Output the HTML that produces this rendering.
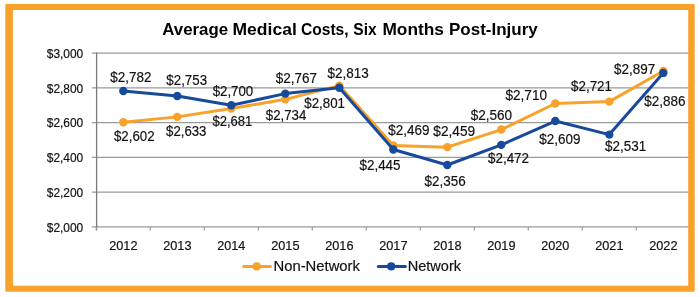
<!DOCTYPE html><html><head><meta charset="utf-8"><style>html,body{margin:0;padding:0;background:#fff;width:700px;height:297px;overflow:hidden}svg{display:block;will-change:transform}text{font-family:"Liberation Sans",sans-serif}</style></head><body>
<svg width="700" height="297" viewBox="0 0 700 297">
<rect x="0" y="0" width="700" height="297" fill="#fff"/>
<line x1="91.8" y1="53.10" x2="690" y2="53.10" stroke="#9a9a9a" stroke-width="1.2"/>
<line x1="91.8" y1="87.86" x2="690" y2="87.86" stroke="#9a9a9a" stroke-width="1.2"/>
<line x1="91.8" y1="122.62" x2="690" y2="122.62" stroke="#9a9a9a" stroke-width="1.2"/>
<line x1="91.8" y1="157.38" x2="690" y2="157.38" stroke="#9a9a9a" stroke-width="1.2"/>
<line x1="91.8" y1="192.14" x2="690" y2="192.14" stroke="#9a9a9a" stroke-width="1.2"/>
<line x1="91.8" y1="226.90" x2="690" y2="226.90" stroke="#9a9a9a" stroke-width="1.2"/>
<line x1="96.6" y1="52.5" x2="96.6" y2="230.4" stroke="#7a7a7a" stroke-width="1.3"/>
<line x1="96.30" y1="226.9" x2="96.30" y2="230.4" stroke="#9a9a9a" stroke-width="1.2"/>
<line x1="150.30" y1="226.9" x2="150.30" y2="230.4" stroke="#9a9a9a" stroke-width="1.2"/>
<line x1="204.30" y1="226.9" x2="204.30" y2="230.4" stroke="#9a9a9a" stroke-width="1.2"/>
<line x1="258.30" y1="226.9" x2="258.30" y2="230.4" stroke="#9a9a9a" stroke-width="1.2"/>
<line x1="312.30" y1="226.9" x2="312.30" y2="230.4" stroke="#9a9a9a" stroke-width="1.2"/>
<line x1="366.30" y1="226.9" x2="366.30" y2="230.4" stroke="#9a9a9a" stroke-width="1.2"/>
<line x1="420.30" y1="226.9" x2="420.30" y2="230.4" stroke="#9a9a9a" stroke-width="1.2"/>
<line x1="474.30" y1="226.9" x2="474.30" y2="230.4" stroke="#9a9a9a" stroke-width="1.2"/>
<line x1="528.30" y1="226.9" x2="528.30" y2="230.4" stroke="#9a9a9a" stroke-width="1.2"/>
<line x1="582.30" y1="226.9" x2="582.30" y2="230.4" stroke="#9a9a9a" stroke-width="1.2"/>
<line x1="636.30" y1="226.9" x2="636.30" y2="230.4" stroke="#9a9a9a" stroke-width="1.2"/>
<line x1="690.30" y1="226.9" x2="690.30" y2="230.4" stroke="#9a9a9a" stroke-width="1.2"/>
<polyline points="123.30,122.27 177.30,116.88 231.30,108.54 285.30,99.33 339.30,85.60 393.30,145.39 447.30,147.13 501.30,129.57 555.30,103.50 609.30,101.59 663.30,71.00" fill="none" stroke="#F8A12B" stroke-width="3" stroke-linejoin="round" stroke-linecap="round"/>
<circle cx="123.30" cy="122.27" r="4.2" fill="#F8A12B"/>
<circle cx="177.30" cy="116.88" r="4.2" fill="#F8A12B"/>
<circle cx="231.30" cy="108.54" r="4.2" fill="#F8A12B"/>
<circle cx="285.30" cy="99.33" r="4.2" fill="#F8A12B"/>
<circle cx="339.30" cy="85.60" r="4.2" fill="#F8A12B"/>
<circle cx="393.30" cy="145.39" r="4.2" fill="#F8A12B"/>
<circle cx="447.30" cy="147.13" r="4.2" fill="#F8A12B"/>
<circle cx="501.30" cy="129.57" r="4.2" fill="#F8A12B"/>
<circle cx="555.30" cy="103.50" r="4.2" fill="#F8A12B"/>
<circle cx="609.30" cy="101.59" r="4.2" fill="#F8A12B"/>
<circle cx="663.30" cy="71.00" r="4.2" fill="#F8A12B"/>
<polyline points="123.30,90.99 177.30,96.03 231.30,105.24 285.30,93.60 339.30,87.69 393.30,149.56 447.30,165.03 501.30,144.87 555.30,121.06 609.30,134.61 663.30,72.91" fill="none" stroke="#184A9B" stroke-width="3" stroke-linejoin="round" stroke-linecap="round"/>
<circle cx="123.30" cy="90.99" r="4.2" fill="#184A9B"/>
<circle cx="177.30" cy="96.03" r="4.2" fill="#184A9B"/>
<circle cx="231.30" cy="105.24" r="4.2" fill="#184A9B"/>
<circle cx="285.30" cy="93.60" r="4.2" fill="#184A9B"/>
<circle cx="339.30" cy="87.69" r="4.2" fill="#184A9B"/>
<circle cx="393.30" cy="149.56" r="4.2" fill="#184A9B"/>
<circle cx="447.30" cy="165.03" r="4.2" fill="#184A9B"/>
<circle cx="501.30" cy="144.87" r="4.2" fill="#184A9B"/>
<circle cx="555.30" cy="121.06" r="4.2" fill="#184A9B"/>
<circle cx="609.30" cy="134.61" r="4.2" fill="#184A9B"/>
<circle cx="663.30" cy="72.91" r="4.2" fill="#184A9B"/>
<line x1="243.6" y1="266.4" x2="270.3" y2="266.4" stroke="#F8A12B" stroke-width="3" stroke-linecap="round"/><circle cx="256.7" cy="266.4" r="4.1" fill="#F8A12B"/>
<line x1="378.3" y1="266.4" x2="405.4" y2="266.4" stroke="#184A9B" stroke-width="3" stroke-linecap="round"/><circle cx="391.2" cy="266.4" r="4.1" fill="#184A9B"/>
<text x="162.29" y="35.10" font-size="16.5" font-weight="bold" fill="#000" textLength="65.84" lengthAdjust="spacingAndGlyphs">Average</text>
<text x="232.54" y="35.10" font-size="16.5" font-weight="bold" fill="#000" textLength="64.26" lengthAdjust="spacingAndGlyphs">Medical</text>
<text x="300.99" y="35.10" font-size="16.5" font-weight="bold" fill="#000" textLength="47.63" lengthAdjust="spacingAndGlyphs">Costs,</text>
<text x="353.33" y="35.10" font-size="16.5" font-weight="bold" fill="#000" textLength="23.34" lengthAdjust="spacingAndGlyphs">Six</text>
<text x="382.45" y="35.10" font-size="16.5" font-weight="bold" fill="#000" textLength="61.54" lengthAdjust="spacingAndGlyphs">Months</text>
<text x="448.97" y="35.10" font-size="16.5" font-weight="bold" fill="#000" textLength="88.82" lengthAdjust="spacingAndGlyphs">Post-Injury</text>
<text x="113.97" y="141.00" font-size="14.3" stroke="#111111" stroke-width="0.18" fill="#111111" textLength="40.61" lengthAdjust="spacingAndGlyphs">$2,602</text>
<text x="166.07" y="135.70" font-size="14.3" stroke="#111111" stroke-width="0.18" fill="#111111" textLength="40.31" lengthAdjust="spacingAndGlyphs">$2,633</text>
<text x="212.47" y="125.80" font-size="14.3" stroke="#111111" stroke-width="0.18" fill="#111111" textLength="39.90" lengthAdjust="spacingAndGlyphs">$2,681</text>
<text x="265.77" y="119.90" font-size="14.3" stroke="#111111" stroke-width="0.18" fill="#111111" textLength="40.48" lengthAdjust="spacingAndGlyphs">$2,734</text>
<text x="327.56" y="77.70" font-size="14.3" stroke="#111111" stroke-width="0.18" fill="#111111" textLength="41.23" lengthAdjust="spacingAndGlyphs">$2,813</text>
<text x="388.16" y="135.40" font-size="14.3" stroke="#111111" stroke-width="0.18" fill="#111111" textLength="41.23" lengthAdjust="spacingAndGlyphs">$2,469</text>
<text x="433.36" y="135.50" font-size="14.3" stroke="#111111" stroke-width="0.18" fill="#111111" textLength="41.84" lengthAdjust="spacingAndGlyphs">$2,459</text>
<text x="470.66" y="120.40" font-size="14.3" stroke="#111111" stroke-width="0.18" fill="#111111" textLength="41.50" lengthAdjust="spacingAndGlyphs">$2,560</text>
<text x="505.46" y="99.80" font-size="14.3" stroke="#111111" stroke-width="0.18" fill="#111111" textLength="41.60" lengthAdjust="spacingAndGlyphs">$2,710</text>
<text x="571.07" y="91.30" font-size="14.3" stroke="#111111" stroke-width="0.18" fill="#111111" textLength="40.92" lengthAdjust="spacingAndGlyphs">$2,721</text>
<text x="614.06" y="74.00" font-size="14.3" stroke="#111111" stroke-width="0.18" fill="#111111" textLength="41.23" lengthAdjust="spacingAndGlyphs">$2,897</text>
<text x="110.26" y="82.40" font-size="14.3" stroke="#111111" stroke-width="0.18" fill="#111111" textLength="41.23" lengthAdjust="spacingAndGlyphs">$2,782</text>
<text x="166.37" y="84.60" font-size="14.3" stroke="#111111" stroke-width="0.18" fill="#111111" textLength="40.72" lengthAdjust="spacingAndGlyphs">$2,753</text>
<text x="212.67" y="96.20" font-size="14.3" stroke="#111111" stroke-width="0.18" fill="#111111" textLength="40.58" lengthAdjust="spacingAndGlyphs">$2,700</text>
<text x="275.76" y="83.20" font-size="14.3" stroke="#111111" stroke-width="0.18" fill="#111111" textLength="41.23" lengthAdjust="spacingAndGlyphs">$2,767</text>
<text x="304.27" y="108.20" font-size="14.3" stroke="#111111" stroke-width="0.18" fill="#111111" textLength="40.72" lengthAdjust="spacingAndGlyphs">$2,801</text>
<text x="359.46" y="170.40" font-size="14.3" stroke="#111111" stroke-width="0.18" fill="#111111" textLength="41.13" lengthAdjust="spacingAndGlyphs">$2,445</text>
<text x="424.56" y="185.50" font-size="14.3" stroke="#111111" stroke-width="0.18" fill="#111111" textLength="41.13" lengthAdjust="spacingAndGlyphs">$2,356</text>
<text x="487.96" y="162.80" font-size="14.3" stroke="#111111" stroke-width="0.18" fill="#111111" textLength="41.13" lengthAdjust="spacingAndGlyphs">$2,472</text>
<text x="539.36" y="143.70" font-size="14.3" stroke="#111111" stroke-width="0.18" fill="#111111" textLength="41.23" lengthAdjust="spacingAndGlyphs">$2,609</text>
<text x="605.06" y="151.30" font-size="14.3" stroke="#111111" stroke-width="0.18" fill="#111111" textLength="41.13" lengthAdjust="spacingAndGlyphs">$2,531</text>
<text x="644.36" y="106.40" font-size="14.3" stroke="#111111" stroke-width="0.18" fill="#111111" textLength="41.23" lengthAdjust="spacingAndGlyphs">$2,886</text>
<text x="46.76" y="57.90" font-size="12.3" stroke="#111111" stroke-width="0.18" fill="#111111" textLength="36.51" lengthAdjust="spacingAndGlyphs">$3,000</text>
<text x="46.76" y="92.66" font-size="12.3" stroke="#111111" stroke-width="0.18" fill="#111111" textLength="36.51" lengthAdjust="spacingAndGlyphs">$2,800</text>
<text x="46.76" y="127.42" font-size="12.3" stroke="#111111" stroke-width="0.18" fill="#111111" textLength="36.51" lengthAdjust="spacingAndGlyphs">$2,600</text>
<text x="46.76" y="162.18" font-size="12.3" stroke="#111111" stroke-width="0.18" fill="#111111" textLength="36.51" lengthAdjust="spacingAndGlyphs">$2,400</text>
<text x="46.76" y="196.94" font-size="12.3" stroke="#111111" stroke-width="0.18" fill="#111111" textLength="36.51" lengthAdjust="spacingAndGlyphs">$2,200</text>
<text x="46.76" y="231.70" font-size="12.3" stroke="#111111" stroke-width="0.18" fill="#111111" textLength="36.51" lengthAdjust="spacingAndGlyphs">$2,000</text>
<text x="109.18" y="249.70" font-size="12.3" stroke="#111111" stroke-width="0.18" fill="#111111" textLength="28.35" lengthAdjust="spacingAndGlyphs">2012</text>
<text x="163.18" y="249.70" font-size="12.3" stroke="#111111" stroke-width="0.18" fill="#111111" textLength="28.35" lengthAdjust="spacingAndGlyphs">2013</text>
<text x="217.19" y="249.70" font-size="12.3" stroke="#111111" stroke-width="0.18" fill="#111111" textLength="28.08" lengthAdjust="spacingAndGlyphs">2014</text>
<text x="271.18" y="249.70" font-size="12.3" stroke="#111111" stroke-width="0.18" fill="#111111" textLength="28.35" lengthAdjust="spacingAndGlyphs">2015</text>
<text x="325.18" y="249.70" font-size="12.3" stroke="#111111" stroke-width="0.18" fill="#111111" textLength="28.35" lengthAdjust="spacingAndGlyphs">2016</text>
<text x="379.18" y="249.70" font-size="12.3" stroke="#111111" stroke-width="0.18" fill="#111111" textLength="28.35" lengthAdjust="spacingAndGlyphs">2017</text>
<text x="433.18" y="249.70" font-size="12.3" stroke="#111111" stroke-width="0.18" fill="#111111" textLength="28.35" lengthAdjust="spacingAndGlyphs">2018</text>
<text x="487.18" y="249.70" font-size="12.3" stroke="#111111" stroke-width="0.18" fill="#111111" textLength="28.35" lengthAdjust="spacingAndGlyphs">2019</text>
<text x="541.19" y="249.70" font-size="12.3" stroke="#111111" stroke-width="0.18" fill="#111111" textLength="28.08" lengthAdjust="spacingAndGlyphs">2020</text>
<text x="595.18" y="249.70" font-size="12.3" stroke="#111111" stroke-width="0.18" fill="#111111" textLength="28.35" lengthAdjust="spacingAndGlyphs">2021</text>
<text x="649.18" y="249.70" font-size="12.3" stroke="#111111" stroke-width="0.18" fill="#111111" textLength="28.35" lengthAdjust="spacingAndGlyphs">2022</text>
<text x="273.52" y="270.90" font-size="14.5" stroke="#111111" stroke-width="0.18" fill="#111111" textLength="86.39" lengthAdjust="spacingAndGlyphs">Non-Network</text>
<text x="407.65" y="270.90" font-size="14.5" stroke="#111111" stroke-width="0.18" fill="#111111" textLength="53.39" lengthAdjust="spacingAndGlyphs">Network</text>
<path fill-rule="evenodd" fill="#F8A12B" d="M6.5,4.0 H693.5 Q694.7,4.0 694.7,5.2 V290.5 Q694.7,291.7 693.5,291.7 H6.5 Q5.3,291.7 5.3,290.5 V5.2 Q5.3,4.0 6.5,4.0 Z M12.9,9.9 H688.2 V285.7 H12.9 Z"/>
</svg></body></html>
